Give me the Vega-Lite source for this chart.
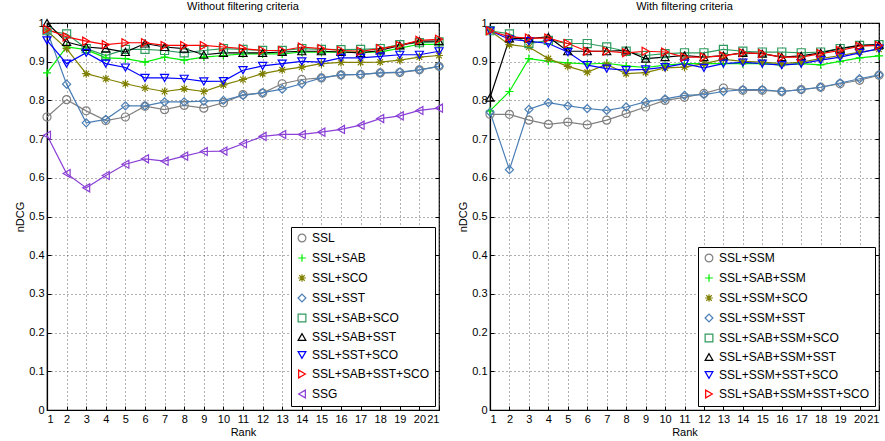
{
"$schema": "https://vega.github.io/schema/vega-lite/v6.json",
"padding": {"left": 14, "top": 0, "right": 2, "bottom": 4},
"background": "white",
"config": {
  "font": "Liberation Sans",
  "view": {"stroke": "black", "strokeWidth": 1.2},
  "axis": {"domainColor": "black", "domainWidth": 1.2, "tickColor": "black", "labelColor": "black", "titleColor": "black", "labelFontSize": 11, "titleFontSize": 11, "titleFontWeight": "normal", "grid": true, "gridColor": "#555", "gridDash": [1, 3], "gridOpacity": 0.9, "tickSize": -4, "labelPadding": 7},
  "legend": {"strokeColor": "black", "fillColor": "white", "padding": 5, "labelFontSize": 12, "labelColor": "black", "symbolSize": 60, "symbolStrokeWidth": 1.2, "rowPadding": 6, "labelLimit": 300, "orient": "bottom-right", "offset": 4},
  "title": {"fontSize": 11, "fontWeight": "normal", "color": "black", "offset": 5}
},
"datasets": {
"left": [
{"s":"SSL","r":1,"v":0.757},{"s":"SSL","r":2,"v":0.802},{"s":"SSL","r":3,"v":0.773},{"s":"SSL","r":4,"v":0.748},{"s":"SSL","r":5,"v":0.757},{"s":"SSL","r":6,"v":0.785},{"s":"SSL","r":7,"v":0.776},{"s":"SSL","r":8,"v":0.787},{"s":"SSL","r":9,"v":0.780},{"s":"SSL","r":10,"v":0.794},{"s":"SSL","r":11,"v":0.815},{"s":"SSL","r":12,"v":0.819},{"s":"SSL","r":13,"v":0.843},{"s":"SSL","r":14,"v":0.854},{"s":"SSL","r":15,"v":0.858},{"s":"SSL","r":16,"v":0.866},{"s":"SSL","r":17,"v":0.867},{"s":"SSL","r":18,"v":0.871},{"s":"SSL","r":19,"v":0.872},{"s":"SSL","r":20,"v":0.879},{"s":"SSL","r":21,"v":0.888},
{"s":"SSL+SAB","r":1,"v":0.871},{"s":"SSL+SAB","r":2,"v":0.938},{"s":"SSL+SAB","r":3,"v":0.931},{"s":"SSL+SAB","r":4,"v":0.910},{"s":"SSL+SAB","r":5,"v":0.908},{"s":"SSL+SAB","r":6,"v":0.899},{"s":"SSL+SAB","r":7,"v":0.912},{"s":"SSL+SAB","r":8,"v":0.904},{"s":"SSL+SAB","r":9,"v":0.912},{"s":"SSL+SAB","r":10,"v":0.916},{"s":"SSL+SAB","r":11,"v":0.920},{"s":"SSL+SAB","r":12,"v":0.920},{"s":"SSL+SAB","r":13,"v":0.920},{"s":"SSL+SAB","r":14,"v":0.925},{"s":"SSL+SAB","r":15,"v":0.925},{"s":"SSL+SAB","r":16,"v":0.925},{"s":"SSL+SAB","r":17,"v":0.925},{"s":"SSL+SAB","r":18,"v":0.925},{"s":"SSL+SAB","r":19,"v":0.935},{"s":"SSL+SAB","r":20,"v":0.945},{"s":"SSL+SAB","r":21,"v":0.945},
{"s":"SSL+SCO","r":1,"v":0.980},{"s":"SSL+SCO","r":2,"v":0.934},{"s":"SSL+SCO","r":3,"v":0.869},{"s":"SSL+SCO","r":4,"v":0.856},{"s":"SSL+SCO","r":5,"v":0.843},{"s":"SSL+SCO","r":6,"v":0.832},{"s":"SSL+SCO","r":7,"v":0.823},{"s":"SSL+SCO","r":8,"v":0.830},{"s":"SSL+SCO","r":9,"v":0.823},{"s":"SSL+SCO","r":10,"v":0.840},{"s":"SSL+SCO","r":11,"v":0.854},{"s":"SSL+SCO","r":12,"v":0.869},{"s":"SSL+SCO","r":13,"v":0.879},{"s":"SSL+SCO","r":14,"v":0.886},{"s":"SSL+SCO","r":15,"v":0.895},{"s":"SSL+SCO","r":16,"v":0.898},{"s":"SSL+SCO","r":17,"v":0.898},{"s":"SSL+SCO","r":18,"v":0.899},{"s":"SSL+SCO","r":19,"v":0.904},{"s":"SSL+SCO","r":20,"v":0.912},{"s":"SSL+SCO","r":21,"v":0.916},
{"s":"SSL+SST","r":1,"v":0.980},{"s":"SSL+SST","r":2,"v":0.842},{"s":"SSL+SST","r":3,"v":0.742},{"s":"SSL+SST","r":4,"v":0.751},{"s":"SSL+SST","r":5,"v":0.786},{"s":"SSL+SST","r":6,"v":0.786},{"s":"SSL+SST","r":7,"v":0.796},{"s":"SSL+SST","r":8,"v":0.796},{"s":"SSL+SST","r":9,"v":0.798},{"s":"SSL+SST","r":10,"v":0.800},{"s":"SSL+SST","r":11,"v":0.813},{"s":"SSL+SST","r":12,"v":0.820},{"s":"SSL+SST","r":13,"v":0.829},{"s":"SSL+SST","r":14,"v":0.843},{"s":"SSL+SST","r":15,"v":0.858},{"s":"SSL+SST","r":16,"v":0.866},{"s":"SSL+SST","r":17,"v":0.867},{"s":"SSL+SST","r":18,"v":0.871},{"s":"SSL+SST","r":19,"v":0.873},{"s":"SSL+SST","r":20,"v":0.879},{"s":"SSL+SST","r":21,"v":0.888},
{"s":"SSL+SAB+SCO","r":1,"v":0.980},{"s":"SSL+SAB+SCO","r":2,"v":0.972},{"s":"SSL+SAB+SCO","r":3,"v":0.934},{"s":"SSL+SAB+SCO","r":4,"v":0.916},{"s":"SSL+SAB+SCO","r":5,"v":0.932},{"s":"SSL+SAB+SCO","r":6,"v":0.932},{"s":"SSL+SAB+SCO","r":7,"v":0.929},{"s":"SSL+SAB+SCO","r":8,"v":0.923},{"s":"SSL+SAB+SCO","r":9,"v":0.929},{"s":"SSL+SAB+SCO","r":10,"v":0.934},{"s":"SSL+SAB+SCO","r":11,"v":0.932},{"s":"SSL+SAB+SCO","r":12,"v":0.929},{"s":"SSL+SAB+SCO","r":13,"v":0.929},{"s":"SSL+SAB+SCO","r":14,"v":0.934},{"s":"SSL+SAB+SCO","r":15,"v":0.932},{"s":"SSL+SAB+SCO","r":16,"v":0.931},{"s":"SSL+SAB+SCO","r":17,"v":0.932},{"s":"SSL+SAB+SCO","r":18,"v":0.934},{"s":"SSL+SAB+SCO","r":19,"v":0.944},{"s":"SSL+SAB+SCO","r":20,"v":0.949},{"s":"SSL+SAB+SCO","r":21,"v":0.951},
{"s":"SSL+SAB+SST","r":1,"v":1.000},{"s":"SSL+SAB+SST","r":2,"v":0.951},{"s":"SSL+SAB+SST","r":3,"v":0.938},{"s":"SSL+SAB+SST","r":4,"v":0.934},{"s":"SSL+SAB+SST","r":5,"v":0.925},{"s":"SSL+SAB+SST","r":6,"v":0.947},{"s":"SSL+SAB+SST","r":7,"v":0.938},{"s":"SSL+SAB+SST","r":8,"v":0.934},{"s":"SSL+SAB+SST","r":9,"v":0.918},{"s":"SSL+SAB+SST","r":10,"v":0.923},{"s":"SSL+SAB+SST","r":11,"v":0.923},{"s":"SSL+SAB+SST","r":12,"v":0.923},{"s":"SSL+SAB+SST","r":13,"v":0.925},{"s":"SSL+SAB+SST","r":14,"v":0.927},{"s":"SSL+SAB+SST","r":15,"v":0.927},{"s":"SSL+SAB+SST","r":16,"v":0.925},{"s":"SSL+SAB+SST","r":17,"v":0.923},{"s":"SSL+SAB+SST","r":18,"v":0.929},{"s":"SSL+SAB+SST","r":19,"v":0.942},{"s":"SSL+SAB+SST","r":20,"v":0.953},{"s":"SSL+SAB+SST","r":21,"v":0.953},
{"s":"SSL+SST+SCO","r":1,"v":0.955},{"s":"SSL+SST+SCO","r":2,"v":0.895},{"s":"SSL+SST+SCO","r":3,"v":0.923},{"s":"SSL+SST+SCO","r":4,"v":0.895},{"s":"SSL+SST+SCO","r":5,"v":0.885},{"s":"SSL+SST+SCO","r":6,"v":0.858},{"s":"SSL+SST+SCO","r":7,"v":0.858},{"s":"SSL+SST+SCO","r":8,"v":0.856},{"s":"SSL+SST+SCO","r":9,"v":0.849},{"s":"SSL+SST+SCO","r":10,"v":0.850},{"s":"SSL+SST+SCO","r":11,"v":0.878},{"s":"SSL+SST+SCO","r":12,"v":0.889},{"s":"SSL+SST+SCO","r":13,"v":0.895},{"s":"SSL+SST+SCO","r":14,"v":0.901},{"s":"SSL+SST+SCO","r":15,"v":0.899},{"s":"SSL+SST+SCO","r":16,"v":0.910},{"s":"SSL+SST+SCO","r":17,"v":0.910},{"s":"SSL+SST+SCO","r":18,"v":0.914},{"s":"SSL+SST+SCO","r":19,"v":0.918},{"s":"SSL+SST+SCO","r":20,"v":0.918},{"s":"SSL+SST+SCO","r":21,"v":0.927},
{"s":"SSL+SAB+SST+SCO","r":1,"v":0.984},{"s":"SSL+SAB+SST+SCO","r":2,"v":0.964},{"s":"SSL+SAB+SST+SCO","r":3,"v":0.953},{"s":"SSL+SAB+SST+SCO","r":4,"v":0.944},{"s":"SSL+SAB+SST+SCO","r":5,"v":0.949},{"s":"SSL+SAB+SST+SCO","r":6,"v":0.949},{"s":"SSL+SAB+SST+SCO","r":7,"v":0.942},{"s":"SSL+SAB+SST+SCO","r":8,"v":0.942},{"s":"SSL+SAB+SST+SCO","r":9,"v":0.942},{"s":"SSL+SAB+SST+SCO","r":10,"v":0.938},{"s":"SSL+SAB+SST+SCO","r":11,"v":0.934},{"s":"SSL+SAB+SST+SCO","r":12,"v":0.929},{"s":"SSL+SAB+SST+SCO","r":13,"v":0.929},{"s":"SSL+SAB+SST+SCO","r":14,"v":0.938},{"s":"SSL+SAB+SST+SCO","r":15,"v":0.934},{"s":"SSL+SAB+SST+SCO","r":16,"v":0.929},{"s":"SSL+SAB+SST+SCO","r":17,"v":0.927},{"s":"SSL+SAB+SST+SCO","r":18,"v":0.934},{"s":"SSL+SAB+SST+SCO","r":19,"v":0.942},{"s":"SSL+SAB+SST+SCO","r":20,"v":0.955},{"s":"SSL+SAB+SST+SCO","r":21,"v":0.958},
{"s":"SSG","r":1,"v":0.710},{"s":"SSG","r":2,"v":0.611},{"s":"SSG","r":3,"v":0.574},{"s":"SSG","r":4,"v":0.606},{"s":"SSG","r":5,"v":0.635},{"s":"SSG","r":6,"v":0.649},{"s":"SSG","r":7,"v":0.643},{"s":"SSG","r":8,"v":0.656},{"s":"SSG","r":9,"v":0.668},{"s":"SSG","r":10,"v":0.669},{"s":"SSG","r":11,"v":0.688},{"s":"SSG","r":12,"v":0.707},{"s":"SSG","r":13,"v":0.712},{"s":"SSG","r":14,"v":0.712},{"s":"SSG","r":15,"v":0.718},{"s":"SSG","r":16,"v":0.725},{"s":"SSG","r":17,"v":0.736},{"s":"SSG","r":18,"v":0.753},{"s":"SSG","r":19,"v":0.760},{"s":"SSG","r":20,"v":0.774},{"s":"SSG","r":21,"v":0.780}
],
"right": [
{"s":"SSL+SSM","r":1,"v":0.764},{"s":"SSL+SSM","r":2,"v":0.764},{"s":"SSL+SSM","r":3,"v":0.749},{"s":"SSL+SSM","r":4,"v":0.738},{"s":"SSL+SSM","r":5,"v":0.744},{"s":"SSL+SSM","r":6,"v":0.737},{"s":"SSL+SSM","r":7,"v":0.749},{"s":"SSL+SSM","r":8,"v":0.766},{"s":"SSL+SSM","r":9,"v":0.783},{"s":"SSL+SSM","r":10,"v":0.800},{"s":"SSL+SSM","r":11,"v":0.808},{"s":"SSL+SSM","r":12,"v":0.818},{"s":"SSL+SSM","r":13,"v":0.832},{"s":"SSL+SSM","r":14,"v":0.826},{"s":"SSL+SSM","r":15,"v":0.826},{"s":"SSL+SSM","r":16,"v":0.823},{"s":"SSL+SSM","r":17,"v":0.828},{"s":"SSL+SSM","r":18,"v":0.834},{"s":"SSL+SSM","r":19,"v":0.843},{"s":"SSL+SSM","r":20,"v":0.852},{"s":"SSL+SSM","r":21,"v":0.865},
{"s":"SSL+SAB+SSM","r":1,"v":0.773},{"s":"SSL+SAB+SSM","r":2,"v":0.823},{"s":"SSL+SAB+SSM","r":3,"v":0.908},{"s":"SSL+SAB+SSM","r":4,"v":0.901},{"s":"SSL+SAB+SSM","r":5,"v":0.897},{"s":"SSL+SAB+SSM","r":6,"v":0.894},{"s":"SSL+SAB+SSM","r":7,"v":0.896},{"s":"SSL+SAB+SSM","r":8,"v":0.889},{"s":"SSL+SAB+SSM","r":9,"v":0.885},{"s":"SSL+SAB+SSM","r":10,"v":0.891},{"s":"SSL+SAB+SSM","r":11,"v":0.895},{"s":"SSL+SAB+SSM","r":12,"v":0.895},{"s":"SSL+SAB+SSM","r":13,"v":0.895},{"s":"SSL+SAB+SSM","r":14,"v":0.895},{"s":"SSL+SAB+SSM","r":15,"v":0.895},{"s":"SSL+SAB+SSM","r":16,"v":0.892},{"s":"SSL+SAB+SSM","r":17,"v":0.895},{"s":"SSL+SAB+SSM","r":18,"v":0.892},{"s":"SSL+SAB+SSM","r":19,"v":0.901},{"s":"SSL+SAB+SSM","r":20,"v":0.910},{"s":"SSL+SAB+SSM","r":21,"v":0.915},
{"s":"SSL+SSM+SCO","r":1,"v":0.980},{"s":"SSL+SSM+SCO","r":2,"v":0.944},{"s":"SSL+SSM+SCO","r":3,"v":0.938},{"s":"SSL+SSM+SCO","r":4,"v":0.908},{"s":"SSL+SSM+SCO","r":5,"v":0.888},{"s":"SSL+SSM+SCO","r":6,"v":0.873},{"s":"SSL+SSM+SCO","r":7,"v":0.893},{"s":"SSL+SSM+SCO","r":8,"v":0.869},{"s":"SSL+SSM+SCO","r":9,"v":0.872},{"s":"SSL+SSM+SCO","r":10,"v":0.884},{"s":"SSL+SSM+SCO","r":11,"v":0.886},{"s":"SSL+SSM+SCO","r":12,"v":0.895},{"s":"SSL+SSM+SCO","r":13,"v":0.906},{"s":"SSL+SSM+SCO","r":14,"v":0.901},{"s":"SSL+SSM+SCO","r":15,"v":0.899},{"s":"SSL+SSM+SCO","r":16,"v":0.895},{"s":"SSL+SSM+SCO","r":17,"v":0.899},{"s":"SSL+SSM+SCO","r":18,"v":0.908},{"s":"SSL+SSM+SCO","r":19,"v":0.916},{"s":"SSL+SSM+SCO","r":20,"v":0.925},{"s":"SSL+SSM+SCO","r":21,"v":0.932},
{"s":"SSL+SSM+SST","r":1,"v":0.770},{"s":"SSL+SSM+SST","r":2,"v":0.621},{"s":"SSL+SSM+SST","r":3,"v":0.777},{"s":"SSL+SSM+SST","r":4,"v":0.794},{"s":"SSL+SSM+SST","r":5,"v":0.786},{"s":"SSL+SSM+SST","r":6,"v":0.779},{"s":"SSL+SSM+SST","r":7,"v":0.774},{"s":"SSL+SSM+SST","r":8,"v":0.783},{"s":"SSL+SSM+SST","r":9,"v":0.796},{"s":"SSL+SSM+SST","r":10,"v":0.804},{"s":"SSL+SSM+SST","r":11,"v":0.813},{"s":"SSL+SSM+SST","r":12,"v":0.815},{"s":"SSL+SSM+SST","r":13,"v":0.823},{"s":"SSL+SSM+SST","r":14,"v":0.828},{"s":"SSL+SSM+SST","r":15,"v":0.828},{"s":"SSL+SSM+SST","r":16,"v":0.823},{"s":"SSL+SSM+SST","r":17,"v":0.828},{"s":"SSL+SSM+SST","r":18,"v":0.834},{"s":"SSL+SSM+SST","r":19,"v":0.845},{"s":"SSL+SSM+SST","r":20,"v":0.856},{"s":"SSL+SSM+SST","r":21,"v":0.866},
{"s":"SSL+SAB+SSM+SCO","r":1,"v":0.980},{"s":"SSL+SAB+SSM+SCO","r":2,"v":0.972},{"s":"SSL+SAB+SSM+SCO","r":3,"v":0.947},{"s":"SSL+SAB+SSM+SCO","r":4,"v":0.955},{"s":"SSL+SAB+SSM+SCO","r":5,"v":0.947},{"s":"SSL+SAB+SSM+SCO","r":6,"v":0.947},{"s":"SSL+SAB+SSM+SCO","r":7,"v":0.938},{"s":"SSL+SAB+SSM+SCO","r":8,"v":0.927},{"s":"SSL+SAB+SSM+SCO","r":9,"v":0.916},{"s":"SSL+SAB+SSM+SCO","r":10,"v":0.921},{"s":"SSL+SAB+SSM+SCO","r":11,"v":0.923},{"s":"SSL+SAB+SSM+SCO","r":12,"v":0.923},{"s":"SSL+SAB+SSM+SCO","r":13,"v":0.932},{"s":"SSL+SAB+SSM+SCO","r":14,"v":0.927},{"s":"SSL+SAB+SSM+SCO","r":15,"v":0.925},{"s":"SSL+SAB+SSM+SCO","r":16,"v":0.925},{"s":"SSL+SAB+SSM+SCO","r":17,"v":0.923},{"s":"SSL+SAB+SSM+SCO","r":18,"v":0.925},{"s":"SSL+SAB+SSM+SCO","r":19,"v":0.934},{"s":"SSL+SAB+SSM+SCO","r":20,"v":0.942},{"s":"SSL+SAB+SSM+SCO","r":21,"v":0.944},
{"s":"SSL+SAB+SSM+SST","r":1,"v":0.807},{"s":"SSL+SAB+SSM+SST","r":2,"v":0.960},{"s":"SSL+SAB+SSM+SST","r":3,"v":0.960},{"s":"SSL+SAB+SSM+SST","r":4,"v":0.964},{"s":"SSL+SAB+SSM+SST","r":5,"v":0.927},{"s":"SSL+SAB+SSM+SST","r":6,"v":0.927},{"s":"SSL+SAB+SSM+SST","r":7,"v":0.927},{"s":"SSL+SAB+SSM+SST","r":8,"v":0.929},{"s":"SSL+SAB+SSM+SST","r":9,"v":0.908},{"s":"SSL+SAB+SSM+SST","r":10,"v":0.912},{"s":"SSL+SAB+SSM+SST","r":11,"v":0.916},{"s":"SSL+SAB+SSM+SST","r":12,"v":0.912},{"s":"SSL+SAB+SSM+SST","r":13,"v":0.916},{"s":"SSL+SAB+SSM+SST","r":14,"v":0.923},{"s":"SSL+SAB+SSM+SST","r":15,"v":0.921},{"s":"SSL+SAB+SSM+SST","r":16,"v":0.912},{"s":"SSL+SAB+SSM+SST","r":17,"v":0.915},{"s":"SSL+SAB+SSM+SST","r":18,"v":0.923},{"s":"SSL+SAB+SSM+SST","r":19,"v":0.934},{"s":"SSL+SAB+SSM+SST","r":20,"v":0.942},{"s":"SSL+SAB+SSM+SST","r":21,"v":0.944},
{"s":"SSL+SSM+SST+SCO","r":1,"v":0.980},{"s":"SSL+SSM+SST+SCO","r":2,"v":0.958},{"s":"SSL+SSM+SST+SCO","r":3,"v":0.953},{"s":"SSL+SSM+SST+SCO","r":4,"v":0.947},{"s":"SSL+SSM+SST+SCO","r":5,"v":0.925},{"s":"SSL+SSM+SST+SCO","r":6,"v":0.891},{"s":"SSL+SSM+SST+SCO","r":7,"v":0.882},{"s":"SSL+SSM+SST+SCO","r":8,"v":0.878},{"s":"SSL+SSM+SST+SCO","r":9,"v":0.880},{"s":"SSL+SSM+SST+SCO","r":10,"v":0.886},{"s":"SSL+SSM+SST+SCO","r":11,"v":0.895},{"s":"SSL+SSM+SST+SCO","r":12,"v":0.884},{"s":"SSL+SSM+SST+SCO","r":13,"v":0.895},{"s":"SSL+SSM+SST+SCO","r":14,"v":0.898},{"s":"SSL+SSM+SST+SCO","r":15,"v":0.895},{"s":"SSL+SSM+SST+SCO","r":16,"v":0.891},{"s":"SSL+SSM+SST+SCO","r":17,"v":0.895},{"s":"SSL+SSM+SST+SCO","r":18,"v":0.904},{"s":"SSL+SSM+SST+SCO","r":19,"v":0.912},{"s":"SSL+SSM+SST+SCO","r":20,"v":0.923},{"s":"SSL+SSM+SST+SCO","r":21,"v":0.934},
{"s":"SSL+SAB+SSM+SST+SCO","r":1,"v":0.980},{"s":"SSL+SAB+SSM+SST+SCO","r":2,"v":0.964},{"s":"SSL+SAB+SSM+SST+SCO","r":3,"v":0.961},{"s":"SSL+SAB+SSM+SST+SCO","r":4,"v":0.961},{"s":"SSL+SAB+SSM+SST+SCO","r":5,"v":0.947},{"s":"SSL+SAB+SSM+SST+SCO","r":6,"v":0.927},{"s":"SSL+SAB+SSM+SST+SCO","r":7,"v":0.927},{"s":"SSL+SAB+SSM+SST+SCO","r":8,"v":0.923},{"s":"SSL+SAB+SSM+SST+SCO","r":9,"v":0.927},{"s":"SSL+SAB+SSM+SST+SCO","r":10,"v":0.925},{"s":"SSL+SAB+SSM+SST+SCO","r":11,"v":0.912},{"s":"SSL+SAB+SSM+SST+SCO","r":12,"v":0.912},{"s":"SSL+SAB+SSM+SST+SCO","r":13,"v":0.915},{"s":"SSL+SAB+SSM+SST+SCO","r":14,"v":0.923},{"s":"SSL+SAB+SSM+SST+SCO","r":15,"v":0.921},{"s":"SSL+SAB+SSM+SST+SCO","r":16,"v":0.912},{"s":"SSL+SAB+SSM+SST+SCO","r":17,"v":0.912},{"s":"SSL+SAB+SSM+SST+SCO","r":18,"v":0.921},{"s":"SSL+SAB+SSM+SST+SCO","r":19,"v":0.929},{"s":"SSL+SAB+SSM+SST+SCO","r":20,"v":0.940},{"s":"SSL+SAB+SSM+SST+SCO","r":21,"v":0.942}
]
},
"spacing": 10,
"resolve": {"scale": {"color": "independent", "shape": "independent"}, "legend": {"color": "independent", "shape": "independent"}},
"hconcat": [
{
  "title": "Without filtering criteria",
  "width": 392, "height": 387,
  "data": {"name": "left"},
  "layer": [
    {"mark": {"type": "line", "strokeWidth": 1.2},
     "encoding": {
       "x": {"field": "r", "type": "quantitative", "title": "Rank", "scale": {"domain": [1, 21], "nice": false}, "axis": {"values": [1,2,3,4,5,6,7,8,9,10,11,12,13,14,15,16,17,18,19,20,21], "titlePadding": 2}},
       "y": {"field": "v", "type": "quantitative", "title": "nDCG", "scale": {"domain": [0, 1], "nice": false}, "axis": {"values": [0,0.1,0.2,0.3,0.4,0.5,0.6,0.7,0.8,0.9,1], "format": "~g", "titlePadding": 3}},
       "color": {"field": "s", "type": "nominal", "title": null, "sort": null,
         "scale": {"domain": ["SSL","SSL+SAB","SSL+SCO","SSL+SST","SSL+SAB+SCO","SSL+SAB+SST","SSL+SST+SCO","SSL+SAB+SST+SCO","SSG"],
                   "range": ["#808080","#00ee00","#808000","#4a7eb4","#2e9b5e","#000000","#0000ff","#ff0000","#8a3fd6"]}}}},
    {"mark": {"type": "point", "filled": false, "size": 65, "strokeWidth": 1.2, "opacity": 1},
     "encoding": {
       "x": {"field": "r", "type": "quantitative", "axis": null},
       "y": {"field": "v", "type": "quantitative", "axis": null},
       "color": {"field": "s", "type": "nominal", "title": null},
       "shape": {"field": "s", "type": "nominal", "title": null,
         "scale": {"domain": ["SSL","SSL+SAB","SSL+SCO","SSL+SST","SSL+SAB+SCO","SSL+SAB+SST","SSL+SST+SCO","SSL+SAB+SST+SCO","SSG"],
                   "range": ["circle","M-1,0L1,0M0,-1L0,1","M-1,0L1,0M0,-1L0,1M-0.7,-0.7L0.7,0.7M-0.7,0.7L0.7,-0.7","diamond","square","triangle-up","triangle-down","triangle-right","triangle-left"]}}}},
    {"mark": {"type": "point", "opacity": 0},
     "encoding": {
       "x": {"field": "r", "type": "quantitative", "axis": {"orient": "top", "labels": false, "title": null, "grid": false, "domain": false, "values": [1,2,3,4,5,6,7,8,9,10,11,12,13,14,15,16,17,18,19,20,21]}},
       "y": {"field": "v", "type": "quantitative", "axis": {"orient": "right", "labels": false, "title": null, "grid": false, "domain": false, "values": [0,0.1,0.2,0.3,0.4,0.5,0.6,0.7,0.8,0.9,1]}}}}
  ],
  "resolve": {"axis": {"x": "independent", "y": "independent"}}
},
{
  "title": "With filtering criteria",
  "width": 389, "height": 387,
  "data": {"name": "right"},
  "layer": [
    {"mark": {"type": "line", "strokeWidth": 1.2},
     "encoding": {
       "x": {"field": "r", "type": "quantitative", "title": "Rank", "scale": {"domain": [1, 21], "nice": false}, "axis": {"values": [1,2,3,4,5,6,7,8,9,10,11,12,13,14,15,16,17,18,19,20,21], "titlePadding": 2}},
       "y": {"field": "v", "type": "quantitative", "title": "nDCG", "scale": {"domain": [0, 1], "nice": false}, "axis": {"values": [0,0.1,0.2,0.3,0.4,0.5,0.6,0.7,0.8,0.9,1], "format": "~g", "titlePadding": 3}},
       "color": {"field": "s", "type": "nominal", "title": null, "sort": null,
         "scale": {"domain": ["SSL+SSM","SSL+SAB+SSM","SSL+SSM+SCO","SSL+SSM+SST","SSL+SAB+SSM+SCO","SSL+SAB+SSM+SST","SSL+SSM+SST+SCO","SSL+SAB+SSM+SST+SCO"],
                   "range": ["#808080","#00ee00","#808000","#4a7eb4","#2e9b5e","#000000","#0000ff","#ff0000"]}}}},
    {"mark": {"type": "point", "filled": false, "size": 65, "strokeWidth": 1.2, "opacity": 1},
     "encoding": {
       "x": {"field": "r", "type": "quantitative", "axis": null},
       "y": {"field": "v", "type": "quantitative", "axis": null},
       "color": {"field": "s", "type": "nominal", "title": null},
       "shape": {"field": "s", "type": "nominal", "title": null,
         "scale": {"domain": ["SSL+SSM","SSL+SAB+SSM","SSL+SSM+SCO","SSL+SSM+SST","SSL+SAB+SSM+SCO","SSL+SAB+SSM+SST","SSL+SSM+SST+SCO","SSL+SAB+SSM+SST+SCO"],
                   "range": ["circle","M-1,0L1,0M0,-1L0,1","M-1,0L1,0M0,-1L0,1M-0.7,-0.7L0.7,0.7M-0.7,0.7L0.7,-0.7","diamond","square","triangle-up","triangle-down","triangle-right"]}}}},
    {"mark": {"type": "point", "opacity": 0},
     "encoding": {
       "x": {"field": "r", "type": "quantitative", "axis": {"orient": "top", "labels": false, "title": null, "grid": false, "domain": false, "values": [1,2,3,4,5,6,7,8,9,10,11,12,13,14,15,16,17,18,19,20,21]}},
       "y": {"field": "v", "type": "quantitative", "axis": {"orient": "right", "labels": false, "title": null, "grid": false, "domain": false, "values": [0,0.1,0.2,0.3,0.4,0.5,0.6,0.7,0.8,0.9,1]}}}}
  ],
  "resolve": {"axis": {"x": "independent", "y": "independent"}}
}
]
}
